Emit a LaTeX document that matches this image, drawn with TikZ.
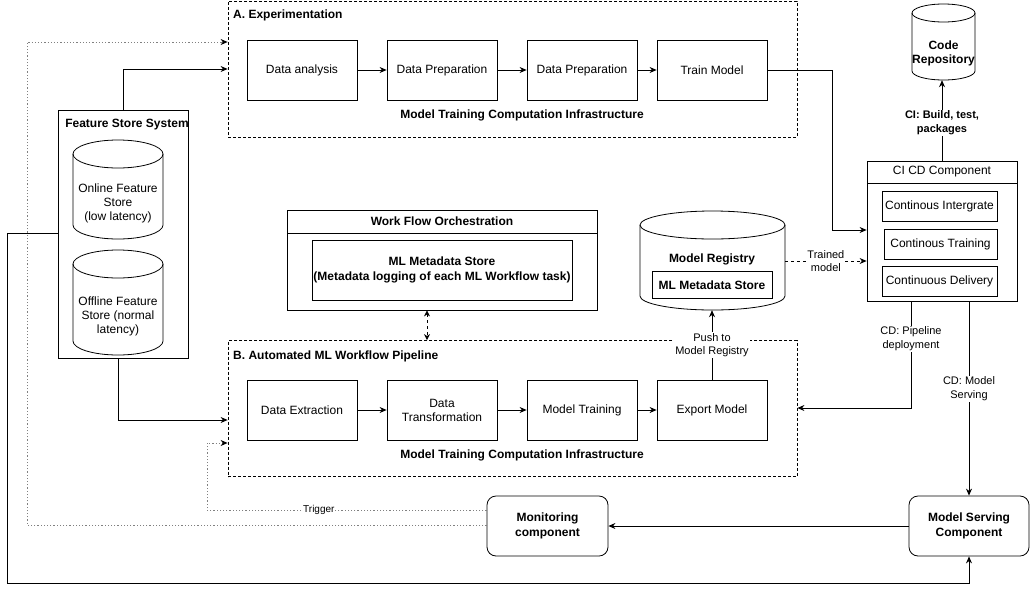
\documentclass[tikz,border=0pt]{standalone}
\usepackage{fontspec}
\setmainfont{Liberation Sans}
\usetikzlibrary{arrows.meta,positioning,calc}
\tikzset{
  base/.style={font=\fontsize{12}{14}\selectfont},
  box/.style={draw,line width=0.8pt,inner sep=0,align=center,base},
  rbox/.style={box,rounded corners=9pt,font=\fontsize{12}{14.5}\selectfont\bfseries},
  group/.style={draw,line width=0.8pt,dash pattern=on 3pt off 2pt,inner sep=0},
  conn/.style={line width=0.8pt,-{Stealth[length=7pt,width=6pt]}},
  plain/.style={line width=0.8pt},
  dotconn/.style={line width=0.7pt,draw=black!50,dash pattern=on 1.2pt off 2pt,-{Stealth[length=7pt,width=6pt,color=black]}},
  dashconn/.style={line width=0.8pt,dash pattern=on 3pt off 3pt,-{Stealth[length=7pt,width=6pt]}},
  lbl/.style={fill=white,inner sep=1pt,align=center,font=\fontsize{11}{13.5}\selectfont},
  blbl/.style={lbl,font=\fontsize{11}{13.5}\selectfont\bfseries},
  ttl/.style={inner sep=0,font=\fontsize{12}{14}\selectfont\bfseries,align=center},
}
% cylinder: name, x1, y1, x2, y2, ry
\newcommand\mycyl[6]{%
  \pgfmathsetmacro\cw{#4-#2}\pgfmathsetmacro\ch{#5-#3}%
  \pgfmathsetmacro\cx{(#2+#4)/2}\pgfmathsetmacro\cy{(#3+#5)/2}%
  \pgfmathsetmacro\crx{(#4-#2)/2}%
  \node[inner sep=0,minimum width=\cw pt,minimum height=\ch pt] (#1) at (\cx,\cy) {};
  \filldraw[fill=white,line width=0.8pt] (#2,#3+#6) -- (#2,#5-#6)
     arc[start angle=180,end angle=360,x radius=\crx pt,y radius=#6pt] -- (#4,#3+#6);
  \draw[line width=0.8pt] (\cx,#3+#6) ellipse[x radius=\crx pt,y radius=#6pt];
}
\begin{document}
\begin{tikzpicture}[x=1pt,y=-1pt]
\useasboundingbox (0,0) rectangle (1030,592);

% ---------- A. Experimentation
\node[group,minimum width=569pt,minimum height=136pt] (grpA) at (512.5,69) {};
\node[ttl,anchor=west] (tA) at (233,15) {A. Experimentation};
\node[box,minimum width=110pt,minimum height=60pt] (da) at (302,70) {Data analysis};
\node[box,minimum width=110pt,minimum height=60pt] (dp1) at (442,70) {Data Preparation};
\node[box,minimum width=110pt,minimum height=60pt] (dp2) at (582,70) {Data Preparation};
\node[box,minimum width=110pt,minimum height=60pt] (tm) at (712,70) {Train Model};
\node[ttl] (infA) at (522,115) {Model Training Computation Infrastructure};
\draw[conn] (da) -- (dp1);
\draw[conn] (dp1) -- (dp2);
\draw[conn] (dp2) -- (tm);

% ---------- B. Automated pipeline
\node[group,minimum width=569pt,minimum height=136pt] (grpB) at (512.5,408.5) {};
\node[ttl,anchor=west] (tB) at (233,356) {B. Automated ML Workflow Pipeline};
\node[box,minimum width=110pt,minimum height=60pt] (de) at (302,410) {Data Extraction};
\node[box,minimum width=110pt,minimum height=60pt] (dt) at (442,410) {Data\\Transformation};
\node[box,minimum width=110pt,minimum height=60pt] (mt) at (582,410) {Model Training};
\node[box,minimum width=110pt,minimum height=60pt] (em) at (712,410) {Export Model};
\node[ttl] (infB) at (522,455) {Model Training Computation Infrastructure};
\draw[conn] (de) -- (dt);
\draw[conn] (dt) -- (mt);
\draw[conn] (mt) -- (em);

% ---------- Feature Store System
\node[box,minimum width=130pt,minimum height=248pt] (fs) at (123,234) {};
\node[ttl] (tfs) at (127,125) {Feature Store System};
\mycyl{onl}{73}{140}{163}{239}{14}
\node[base,align=center] at (118,203) {Online Feature\\Store\\(low latency)};
\mycyl{offl}{73}{250}{163}{355}{14}
\node[base,align=center] at (118,316) {Offline Feature\\Store (normal\\latency)};

% ---------- Work Flow Orchestration
\node[box,minimum width=310pt,minimum height=100pt] (wfo) at (442,260) {};
\draw[plain] (287,233) -- (597,233);
\node[ttl] (twfo) at (442,221) {Work Flow Orchestration};
\node[box,minimum width=260pt,minimum height=60pt,font=\fontsize{12}{15}\selectfont\bfseries] (mlm) at (442,270) {ML Metadata Store\\(Metadata logging of each ML Workflow task)};
\draw[line width=0.8pt,dash pattern=on 3pt off 3pt,{Stealth[length=6pt,width=6pt]}-{Stealth[length=6pt,width=6pt]}] (wfo.south -| 427,0) -- (grpB.north -| 427,0);

% ---------- Model Registry
\mycyl{mr}{640}{211}{785}{310}{14}
\node[ttl] (tmr) at (712,259) {Model Registry};
\node[box,minimum width=120pt,minimum height=27pt,font=\fontsize{12}{14}\selectfont\bfseries] (mrm) at (712,285) {ML Metadata Store};

% ---------- Code repository
\mycyl{cr}{912}{4}{975}{80}{9}
\node[ttl] at (943.5,53) {Code\\Repository};

% ---------- CI CD
\node[box,minimum width=150pt,minimum height=140pt] (cicd) at (942,231) {};
\draw[plain] (867,183) -- (1017,183);
\node[base,inner sep=0] (tcicd) at (942,172) {CI CD Component};
\node[box,minimum width=115pt,minimum height=30pt] (ci) at (939.5,206) {Continous Intergrate};
\node[box,minimum width=113pt,minimum height=30pt] (ct) at (940.5,244) {Continous Training};
\node[box,minimum width=115pt,minimum height=30pt] (cd) at (939.5,281.5) {Continuous Delivery};

% ---------- Serving / Monitoring
\node[rbox,minimum width=120pt,minimum height=60pt] (ms) at (969,526) {Model Serving\\Component};
\node[rbox,minimum width=121pt,minimum height=60pt] (mon) at (547.5,526) {Monitoring\\component};

% ---------- connectors
\coordinate (fsTop) at (123,110);
\draw[conn] (fsTop) |- (grpA.west |- 0,69);
\draw[dotconn] (mon.west |- 0,525) -- (27,525) |- (grpA.west |- 0,42);
\draw[dotconn] (mon.west |- 0,510) -- node[lbl,pos=0.6,font=\fontsize{10}{12}\selectfont]{Trigger} (207,510) |- (grpB.west |- 0,443);
\draw[conn] (fs.south -| 118,0) |- (grpB.west |- 0,420);
\draw[conn] (fs.west |- 0,233) -- (7,233) |- (969,583) -- (ms.south);
\draw[conn] (tm.east) -- (832,70) |- (cicd.west |- 0,230);
\draw[dashconn] (mr.east |- 0,261) -- node[lbl,pos=0.5]{Trained\\model} (cicd.west |- 0,261);
\draw[conn] (em.north) -- node[lbl,pos=0.5]{Push to\\Model Registry} (mr.south -| em.north);
\draw[conn] (cicd.north) -- node[blbl,pos=0.47]{CI: Build, test,\\packages} (cr.south -| cicd.north);
\draw[conn] (cicd.south -| 911,0) -- node[lbl,pos=0.35]{CD: Pipeline\\deployment} (911,408) -- (grpB.east |- 0,408);
\draw[conn] (cicd.south -| ms.north) -- node[lbl,pos=0.45]{CD: Model\\Serving} (ms.north);
\draw[conn] (ms.west) -- (mon.east);
\end{tikzpicture}
\end{document}
